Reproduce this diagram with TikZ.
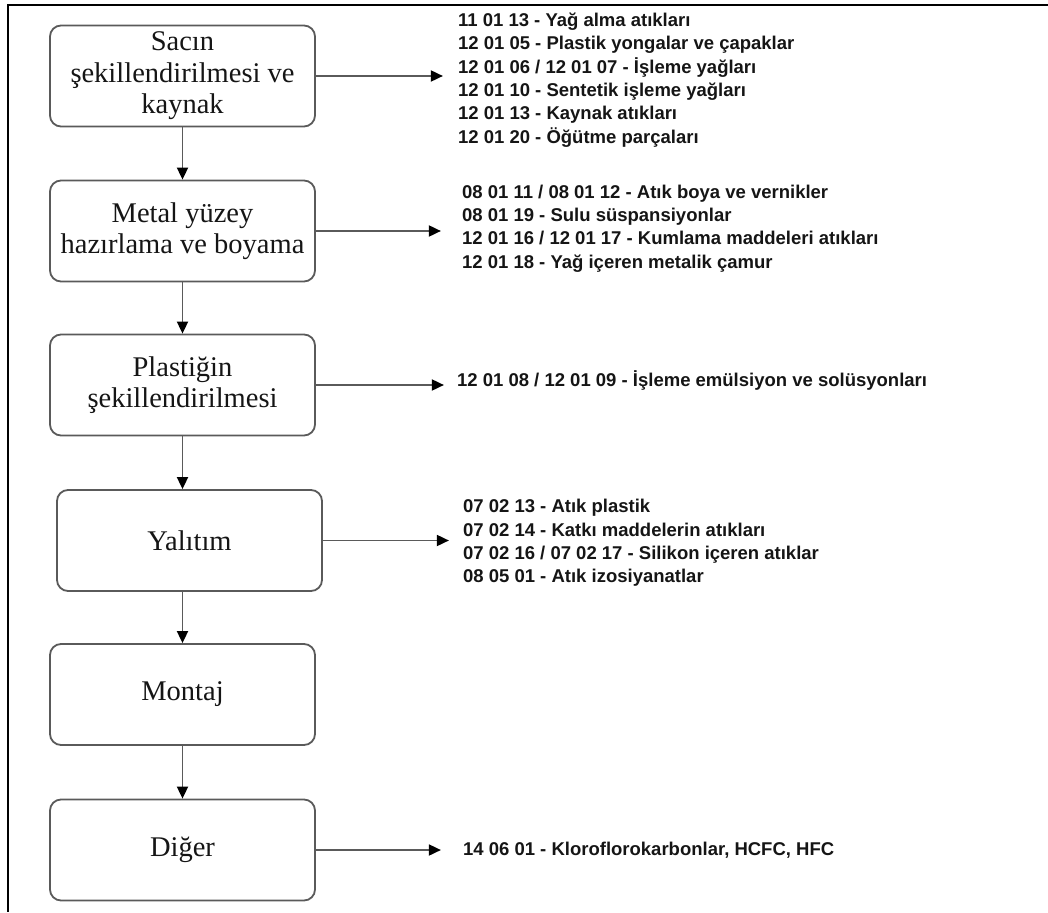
\documentclass[tikz,border=0pt]{standalone}
\usepackage{fontspec}
\setmainfont{Liberation Serif}
\newfontfamily\codefont{Liberation Sans}
\usetikzlibrary{positioning, arrows.meta}
\definecolor{edge}{HTML}{5A5A5A}
\definecolor{ink}{HTML}{151515}
\tikzset{
  stage/.style={rounded corners=11pt, draw=edge, line width=1.8pt, fill=white,
                minimum width=265pt, minimum height=101pt, align=center,
                font=\fontsize{28.5}{31.5}\selectfont, text=ink, inner sep=1pt},
  flow/.style={-{Triangle[length=12pt, width=11pt, color=black]}, line width=1.8pt, draw=edge},
  waste/.style={align=left, inner sep=0pt, text=ink,
                font=\codefont\bfseries\fontsize{18.5}{23.4}\selectfont},
}

\begin{document}
\begin{tikzpicture}[x=1pt, y=-1pt]
  \useasboundingbox (0,0) rectangle (1048,912);
  % frame
  \draw[line width=2pt, black] (1048,5) -- (8,5) -- (8,912);
  % stages
  \node[stage] (sac)   at (182.5,76)    {Sacın\\şekillendirilmesi ve\\kaynak};
  \node[stage] (yuzey) at (182.5,231)   {Metal yüzey\\hazırlama ve boyama};
  \node[stage] (plast) at (182.5,385)   {Plastiğin\\şekillendirilmesi};
  \node[stage] (yalit) at (189.5,540.5) {Yalıtım};
  \node[stage] (montaj) at (182.5,694.5) {Montaj};
  \node[stage] (diger) at (182.5,850)   {Diğer};
  % waste codes
  \node[waste, right=142pt of sac, yshift=-4pt] (atik1)
    {11 01 13 - Yağ alma atıkları\\
     12 01 05 - Plastik yongalar ve çapaklar\\
     12 01 06 / 12 01 07 - İşleme yağları\\
     12 01 10 - Sentetik işleme yağları\\
     12 01 13 - Kaynak atıkları\\
     12 01 20 - Öğütme parçaları};
  \node[waste, right=146pt of yuzey, yshift=2.5pt] (atik2)
    {08 01 11 / 08 01 12 - Atık boya ve vernikler\\
     08 01 19 - Sulu süspansiyonlar\\
     12 01 16 / 12 01 17 - Kumlama maddeleri atıkları\\
     12 01 18 - Yağ içeren metalik çamur};
  \node[waste, right=141pt of plast, yshift=5pt] (atik3)
    {12 01 08 / 12 01 09 - İşleme emülsiyon ve solüsyonları};
  \node[waste, right=140pt of yalit, yshift=-2.5pt] (atik4)
    {07 02 13 - Atık plastik\\
     07 02 14 - Katkı maddelerin atıkları\\
     07 02 16 / 07 02 17 - Silikon içeren atıklar\\
     08 05 01 - Atık izosiyanatlar};
  \node[waste, right=147pt of diger, yshift=0pt] (atik6)
    {14 06 01 - Kloroflorokarbonlar, HCFC, HFC};
  % flow down
  \draw[flow] (sac) -- (yuzey);
  \draw[flow] (yuzey) -- (plast);
  \draw[flow] (plast.south) -- (plast.south |- yalit.north);
  \draw[flow] (montaj.north |- yalit.south) -- (montaj.north);
  \draw[flow] (montaj) -- (diger);
  % flow out
  \draw[flow, shorten >=15pt] (sac.east) -- (sac.east -| atik1.west);
  \draw[flow, shorten >=21pt] (yuzey.east) -- (yuzey.east -| atik2.west);
  \draw[flow, shorten >=13pt] (plast.east) -- (plast.east -| atik3.west);
  \draw[flow, shorten >=14pt] (yalit.east) -- (yalit.east -| atik4.west);
  \draw[flow, shorten >=22pt] (diger.east) -- (diger.east -| atik6.west);
\end{tikzpicture}
\end{document}
